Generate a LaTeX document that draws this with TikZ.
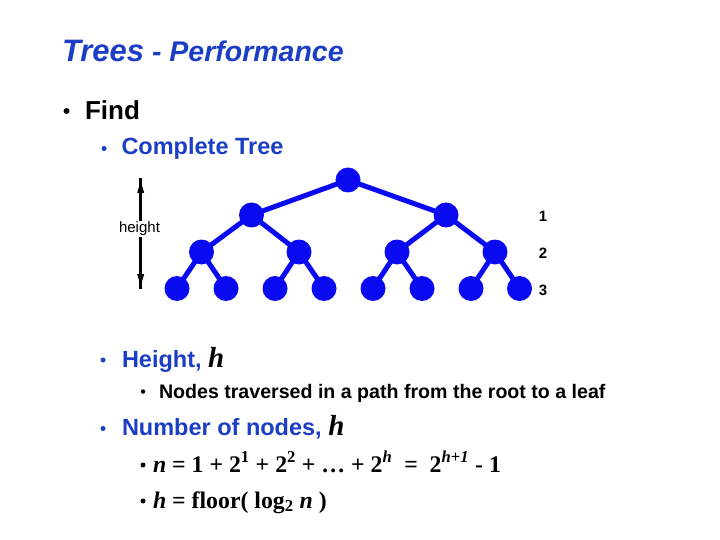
\documentclass[tikz,border=0pt]{standalone}
\usepackage{fontspec}
\setmainfont{Liberation Sans}
\newfontfamily\tms{Liberation Serif}
\definecolor{ttlblue}{RGB}{28,62,196}
\definecolor{treeblue}{RGB}{10,10,240}
\begin{document}
\begin{tikzpicture}[x=1pt,y=-1pt,
  txt/.style={anchor=base west,inner sep=0pt,outer sep=0pt},
  bul/.style={circle,fill,inner sep=0pt,minimum size=#1},
  tn/.style={circle,fill=treeblue,minimum size=25pt,inner sep=0pt},
  edge/.style={draw=treeblue,line width=5pt},
  lvl/.style={inner sep=0pt,font=\fontsize{15}{15}\selectfont\bfseries}]
\useasboundingbox (0,0) rectangle (720,540);
% title
\node[txt,text=ttlblue] (title) at (62,62) {\bfseries\itshape\fontsize{31}{31}\selectfont Trees\fontsize{28.5}{28.5}\selectfont{} - Performance};
% Find
\node[bul=6pt] (bu1) at (66.5,111) {};
\node[txt] (find) at (85,120) {\bfseries\fontsize{26}{26}\selectfont Find};
% Complete Tree
\node[bul=5pt,ttlblue] (bu2) at (104,148.5) {};
\node[txt,text=ttlblue] (ct) at (121.5,155) {\bfseries\fontsize{23.5}{23.5}\selectfont Complete Tree};
% tree
\node[tn] (r) at (348,180) {};
\node[tn] (a1) at (251.5,215) {};
\node[tn] (a2) at (446,215) {};
\node[tn] (b1n) at (201.5,252) {};
\node[tn] (b2n) at (299,252) {};
\node[tn] (b3n) at (397,252) {};
\node[tn] (b4n) at (495,252) {};
\node[tn] (c1) at (177,288.5) {};
\node[tn] (c2) at (226,288.5) {};
\node[tn] (c3) at (275,288.5) {};
\node[tn] (c4) at (324,288.5) {};
\node[tn] (c5) at (373,288.5) {};
\node[tn] (c6) at (422,288.5) {};
\node[tn] (c7) at (471,288.5) {};
\node[tn] (c8) at (519.5,288.5) {};
\draw[edge] (r.center) -- (a1.center);
\draw[edge] (r.center) -- (a2.center);
\draw[edge] (a1.center) -- (b1n.center);
\draw[edge] (a1.center) -- (b2n.center);
\draw[edge] (a2.center) -- (b3n.center);
\draw[edge] (a2.center) -- (b4n.center);
\draw[edge] (b1n.center) -- (c1.center);
\draw[edge] (b1n.center) -- (c2.center);
\draw[edge] (b2n.center) -- (c3.center);
\draw[edge] (b2n.center) -- (c4.center);
\draw[edge] (b3n.center) -- (c5.center);
\draw[edge] (b3n.center) -- (c6.center);
\draw[edge] (b4n.center) -- (c7.center);
\draw[edge] (b4n.center) -- (c8.center);
% level labels
\node[lvl] (l1) at (543,216) {1};
\node[lvl] (l2) at (543,253) {2};
\node[lvl] (l3) at (543,290) {3};
% height arrow
\coordinate (ht) at (140.7,178);
\coordinate (hb) at (140.7,289);
\draw[line width=2.5pt] (ht) -- (hb);
\fill (140.7,181) -- (144.2,193) -- (137.2,193) -- cycle;
\fill (140.7,286) -- (144.2,274) -- (137.2,274) -- cycle;
\node[fill=white,inner sep=1.5pt,font=\fontsize{15}{15}\selectfont] (hl) at (139.5,229) {height};
% Height, h
\node[bul=5pt,ttlblue] (bu3) at (103,360) {};
\node[txt,text=ttlblue] (hgt) at (122,367) {\bfseries\fontsize{23.5}{23.5}\selectfont Height, {\color{black}\tms\bfseries\itshape\fontsize{29}{29}\selectfont h}};
\node[bul=4.5pt] (bu4) at (143,391.5) {};
\node[txt] (nodes) at (159,398) {\bfseries\fontsize{19.6}{19.6}\selectfont Nodes traversed in a path from the root to a leaf};
% Number of nodes
\node[bul=5pt,ttlblue] (bu5) at (103,428.5) {};
\node[txt,text=ttlblue] (num) at (122,435) {\bfseries\fontsize{23.5}{23.5}\selectfont Number of nodes, {\color{black}\tms\bfseries\itshape\fontsize{29}{29}\selectfont h}};
\node[bul=5pt] (bu6) at (143,465) {};
\node[txt] (f1) at (153,472) {\tms\bfseries\fontsize{23.8}{23.8}\selectfont \textit{n} = 1 + 2\textsuperscript{1} + 2\textsuperscript{2} + … + 2\textsuperscript{\textit{h}}\ \ =\ \ 2\textsuperscript{\textit{h}+\textit{1}} - 1};
\node[bul=5pt] (bu7) at (143,501) {};
\node[txt] (f2) at (153,508) {\tms\bfseries\fontsize{23.8}{23.8}\selectfont \textit{h} = floor( log\textsubscript{2} \textit{n} )};
\end{tikzpicture}
\end{document}
